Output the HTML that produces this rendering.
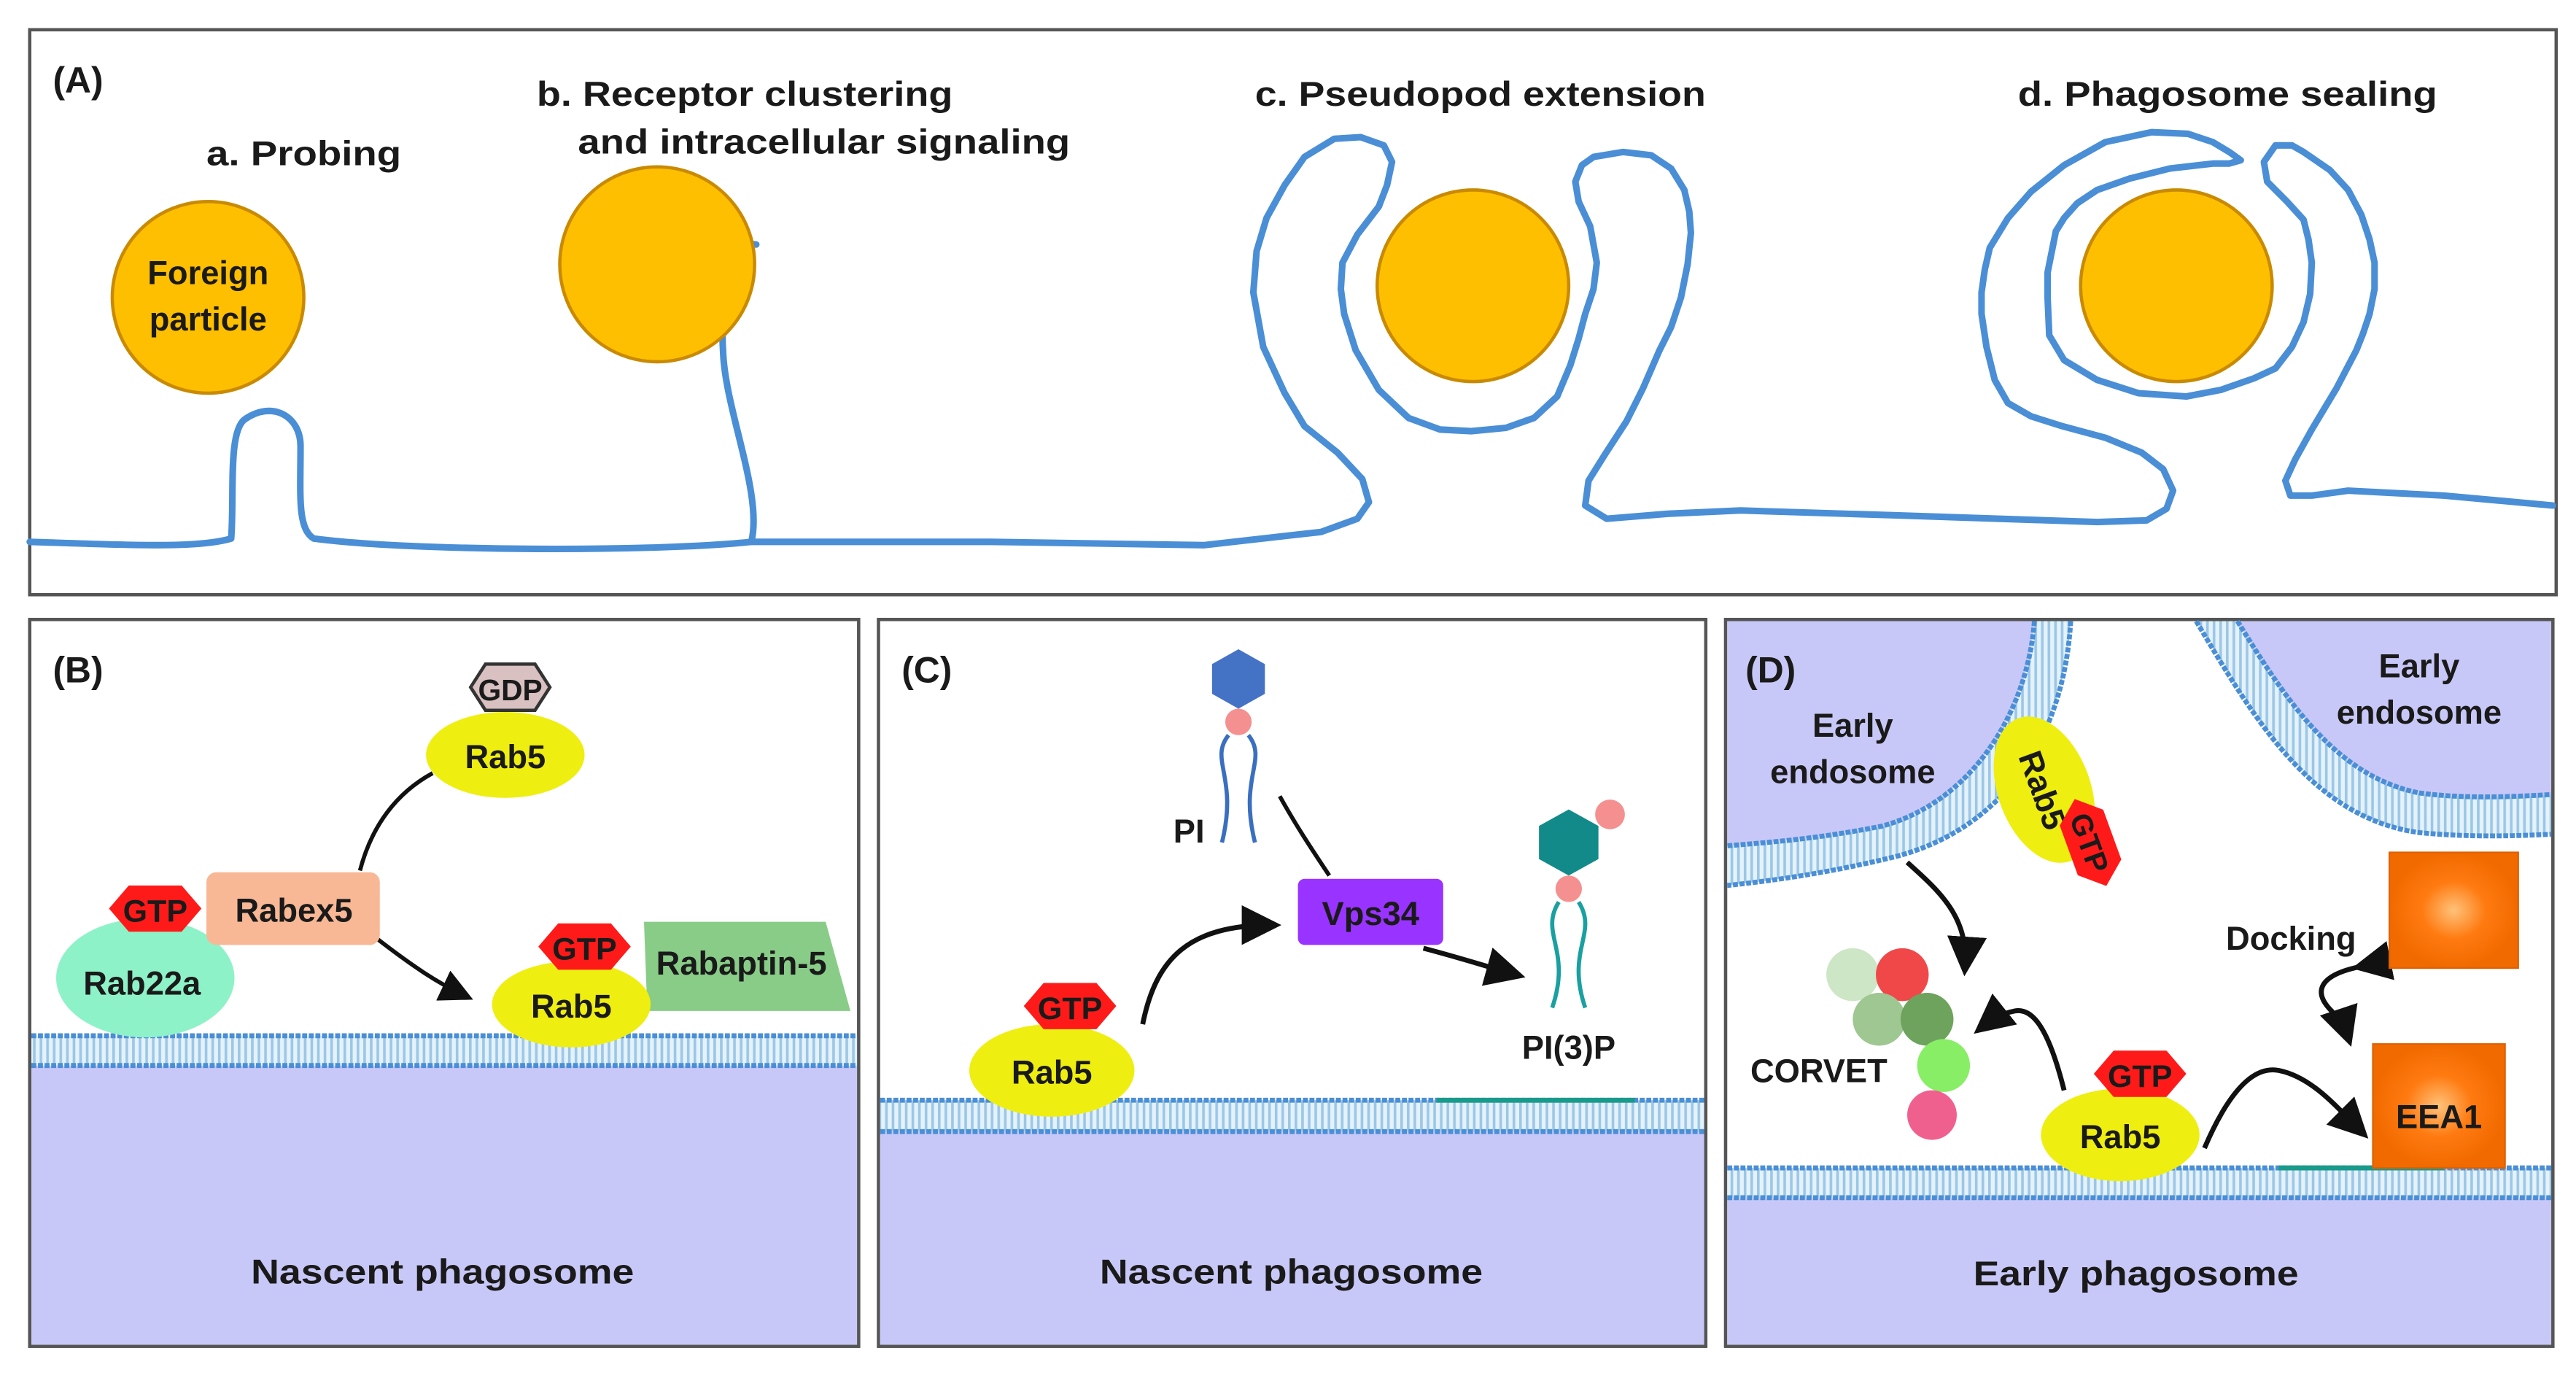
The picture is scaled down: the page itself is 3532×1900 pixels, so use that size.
<!DOCTYPE html>
<html><head><meta charset="utf-8"><style>
html,body{margin:0;padding:0;background:#fff}
svg{display:block}
text{font-family:"Liberation Sans",Arial,sans-serif;font-weight:bold;fill:#1a1a1a}
</style></head><body>
<svg width="3532" height="1900" viewBox="0 0 1560 839" preserveAspectRatio="none" xmlns="http://www.w3.org/2000/svg">
<defs>
<pattern id="st" width="4" height="20" patternUnits="userSpaceOnUse"><rect width="4" height="20" fill="#e4f2fb"/><rect width="1.6" height="20" fill="#9cc7e6"/></pattern>
<radialGradient id="og"><stop offset="0" stop-color="#ffc27a"/><stop offset="0.5" stop-color="#ff7a10"/><stop offset="1" stop-color="#f06a00"/></radialGradient>
<marker id="ar" markerWidth="8" markerHeight="8" refX="6" refY="4" orient="auto" markerUnits="strokeWidth"><path d="M0,0 L8,4 L0,8 z" fill="#111"/></marker>
</defs>
<rect width="1560" height="839" fill="#fff"/>
<!-- Panel A -->
<rect x="18" y="18" width="1530" height="342" fill="#fff" stroke="#555" stroke-width="2"/>
<text x="32" y="56" font-size="22">(A)</text>
<text x="125" y="100" font-size="21" textLength="118" lengthAdjust="spacingAndGlyphs">a. Probing</text>
<text x="325" y="64" font-size="21" textLength="252" lengthAdjust="spacingAndGlyphs">b. Receptor clustering</text>
<text x="350" y="93" font-size="21" textLength="298" lengthAdjust="spacingAndGlyphs">and intracellular signaling</text>
<text x="760" y="64" font-size="21" textLength="273" lengthAdjust="spacingAndGlyphs">c. Pseudopod extension</text>
<text x="1222" y="64" font-size="21" textLength="254" lengthAdjust="spacingAndGlyphs">d. Phagosome sealing</text>
<g fill="none" stroke="#4a8ed6" stroke-width="4" stroke-linejoin="round" stroke-linecap="round">
<path d="M18,328 C80,330 120,332 140,326 C142,300 138,262 148,254 C165,242 182,252 182,270 C182,300 180,320 190,326 C250,334 400,334 455,328 C462,300 440,250 438,215 C436,185 440,145 458,148"/>
<path d="M455,328 L600,328 L729,330 L800,322 L822,314 L829,304 L825,290 L810,274 L790,258 L778,238 L765,210 L759,177 L761,152 L767,132 L778,112 L790,95 L808,84 L824,83 L838,88 L843,98 L840,112 L835,125 L822,142 L813,159 L812,175 L814,190 L821,212 L835,236 L853,253 L872,260 L891,261 L912,259 L929,253 L943,240 L951,221 L956,205 L960,190 L965,175 L967,159 L963,137 L956,122 L954,110 L958,100 L965,95 L983,92 L1000,94 L1012,102 L1020,115 L1023,128 L1024,141 L1022,160 L1018,180 L1012,198 L1005,212 L995,235 L985,255 L972,275 L962,291 L960,306 L973,314 L1010,311 L1054,309 L1150,312 L1270,316 L1300,315 L1312,308 L1316,297 L1310,284 L1297,274 L1275,265 L1249,258 L1230,252 L1216,244 L1208,230 L1203,210 L1200,190 L1200,177 L1202,163 L1205,150 L1216,132 L1230,116 L1250,100 L1275,86 L1303,80 L1325,81 L1340,86 L1350,92 L1357,97 L1350,99 L1340,99 L1314,102 L1290,108 L1270,115 L1258,123 L1250,132 L1245,140 L1243,150 L1240,165 L1240,180 L1241,203 L1250,218 L1270,230 L1295,238 L1324,240 L1345,236 L1365,229 L1378,223 L1388,210 L1395,195 L1399,178 L1400,159 L1398,145 L1395,133 L1385,122 L1373,110 L1371,98 L1378,88 L1388,88 L1395,92 L1411,103 L1422,115 L1430,130 L1435,145 L1438,159 L1438,175 L1435,190 L1431,202 L1427,212 L1415,235 L1400,260 L1390,278 L1384,291 L1387,300 L1400,300 L1422,297 L1480,300 L1546,306"/>
</g>
<g fill="#fdbf00" stroke="#c98a00" stroke-width="2">
<circle cx="126" cy="180" r="58"/>
<circle cx="398" cy="160" r="59"/>
<circle cx="892" cy="173" r="58"/>
<circle cx="1318" cy="173" r="58"/>
</g>
<text x="126" y="172" font-size="20" text-anchor="middle">Foreign</text>
<text x="126" y="200" font-size="20" text-anchor="middle">particle</text>

<!-- Panel B -->
<rect x="18" y="375" width="502" height="440" fill="#fff" stroke="#555" stroke-width="2"/>
<rect x="19" y="645" width="500" height="169" fill="#c8c8f8"/>
<rect x="19" y="627" width="500" height="18" fill="url(#st)"/>
<line x1="19" y1="627" x2="519" y2="627" stroke="#4a8ed6" stroke-width="3" stroke-dasharray="3,1"/>
<line x1="19" y1="645" x2="519" y2="645" stroke="#4a8ed6" stroke-width="3" stroke-dasharray="3,1"/>
<text x="32" y="413" font-size="22">(B)</text>
<text x="152" y="777" font-size="21" textLength="232" lengthAdjust="spacingAndGlyphs">Nascent phagosome</text>
<path d="M218,527 C225,500 240,480 262,468" fill="none" stroke="#111" stroke-width="2.5"/>
<path d="M228,568 C250,585 265,595 282,603" fill="none" stroke="#111" stroke-width="2.5" marker-end="url(#ar)"/>
<ellipse cx="306" cy="457" rx="48" ry="26" fill="#eeee10"/>
<text x="306" y="465" font-size="20" text-anchor="middle">Rab5</text>
<polygon points="294,402 324,402 333,416 324,430 294,430 285,416" fill="#d9c1c1" stroke="#333" stroke-width="2"/>
<text x="309" y="424" font-size="18" text-anchor="middle" fill="#222">GDP</text>
<ellipse cx="88" cy="592" rx="54" ry="36" fill="#8ef2c8"/>
<text x="86" y="602" font-size="20" text-anchor="middle">Rab22a</text>
<rect x="125" y="528" width="105" height="44" rx="6" fill="#f8b895"/>
<text x="178" y="558" font-size="20" text-anchor="middle">Rabex5</text>
<polygon points="78,536 110,536 122,550 110,564 78,564 66,550" fill="#ff1a1a"/>
<text x="94" y="558" font-size="19" text-anchor="middle" fill="#fff">GTP</text>
<polygon points="390,558 500,558 515,612 392,612" fill="#88cc88"/>
<text x="449" y="590" font-size="20" text-anchor="middle">Rabaptin-5</text>
<ellipse cx="346" cy="608" rx="48" ry="26" fill="#eeee10"/>
<text x="346" y="616" font-size="20" text-anchor="middle">Rab5</text>
<polygon points="338,559 370,559 382,573 370,587 338,587 326,573" fill="#ff1a1a"/>
<text x="354" y="581" font-size="19" text-anchor="middle" fill="#fff">GTP</text>

<!-- Panel C -->
<rect x="532" y="375" width="501" height="440" fill="#fff" stroke="#555" stroke-width="2"/>
<rect x="533" y="685" width="499" height="129" fill="#c8c8f8"/>
<rect x="533" y="666" width="499" height="19" fill="url(#st)"/>
<line x1="533" y1="666" x2="1032" y2="666" stroke="#4a8ed6" stroke-width="3" stroke-dasharray="3,1"/>
<line x1="533" y1="685" x2="1032" y2="685" stroke="#4a8ed6" stroke-width="3" stroke-dasharray="3,1"/>
<line x1="870" y1="666" x2="990" y2="666" stroke="#1a9a8a" stroke-width="3"/>
<text x="546" y="413" font-size="22">(C)</text>
<text x="666" y="777" font-size="21" textLength="232" lengthAdjust="spacingAndGlyphs">Nascent phagosome</text>
<polygon points="750,393 766,402 766,420 750,429 734,420 734,402" fill="#4472c4"/>
<circle cx="750" cy="437" r="8" fill="#f59090"/>
<path d="M744,445 C732,460 750,470 740,510 M756,445 C768,460 750,470 760,510" fill="none" stroke="#3a6fc0" stroke-width="2.5"/>
<text x="720" y="510" font-size="20" text-anchor="middle">PI</text>
<path d="M775,482 C785,500 795,515 805,530" fill="none" stroke="#111" stroke-width="2.5"/>
<rect x="786" y="532" width="88" height="40" rx="4" fill="#9933ff"/>
<text x="830" y="560" font-size="20" text-anchor="middle" fill="#fff">Vps34</text>
<path d="M692,620 C700,580 720,560 770,560" fill="none" stroke="#111" stroke-width="3" marker-end="url(#ar)"/>
<path d="M862,574 C885,580 900,585 918,590" fill="none" stroke="#111" stroke-width="3" marker-end="url(#ar)"/>
<polygon points="950,490 968,500 968,520 950,530 932,520 932,500" fill="#138a8a"/>
<circle cx="975" cy="493" r="9" fill="#f59090"/>
<circle cx="950" cy="538" r="8" fill="#f59090"/>
<path d="M944,546 C932,565 952,575 940,610 M956,546 C968,565 948,575 960,610" fill="none" stroke="#1aa0a0" stroke-width="2.5"/>
<text x="950" y="641" font-size="20" text-anchor="middle">PI(3)P</text>
<ellipse cx="637" cy="648" rx="50" ry="28" fill="#eeee10"/>
<text x="637" y="656" font-size="20" text-anchor="middle">Rab5</text>
<polygon points="632,595 664,595 676,609 664,623 632,623 620,609" fill="#ff1a1a"/>
<text x="648" y="617" font-size="19" text-anchor="middle" fill="#fff">GTP</text>

<!-- Panel D -->
<rect x="1045" y="375" width="501" height="440" fill="#fff" stroke="#555" stroke-width="2"/>
<rect x="1046" y="725" width="499" height="89" fill="#c8c8f8"/>
<rect x="1046" y="707" width="499" height="18" fill="url(#st)"/>
<line x1="1046" y1="707" x2="1545" y2="707" stroke="#4a8ed6" stroke-width="3" stroke-dasharray="3,1"/>
<line x1="1046" y1="725" x2="1545" y2="725" stroke="#4a8ed6" stroke-width="3" stroke-dasharray="3,1"/>
<line x1="1380" y1="707" x2="1480" y2="707" stroke="#1a9a8a" stroke-width="3"/>
<!-- left endosome -->
<path d="M1046,376 L1232,376 C1228,430 1195,485 1140,500 C1100,508 1070,510 1046,512 Z" fill="#c8c8f8"/>
<path d="M1232,376 C1228,430 1195,485 1140,500 C1100,508 1070,510 1046,512 L1046,536 C1075,533 1110,528 1150,518 C1215,500 1250,445 1254,376 Z" fill="url(#st)"/>
<path d="M1232,376 C1228,430 1195,485 1140,500 C1100,508 1070,510 1046,512 M1254,376 C1250,445 1215,500 1150,518 C1110,528 1075,533 1046,536" fill="none" stroke="#4a8ed6" stroke-width="3" stroke-dasharray="3,1"/>
<!-- right endosome -->
<path d="M1355,376 C1385,425 1415,470 1465,480 C1495,484 1525,482 1545,481 L1545,376 Z" fill="#c8c8f8"/>
<path d="M1330,376 C1365,435 1400,495 1465,504 C1495,507 1525,506 1545,505 L1545,481 C1525,482 1495,484 1465,480 C1415,470 1385,425 1355,376 Z" fill="url(#st)"/>
<path d="M1355,376 C1385,425 1415,470 1465,480 C1495,484 1525,482 1545,481 M1330,376 C1365,435 1400,495 1465,504 C1495,507 1525,506 1545,505" fill="none" stroke="#4a8ed6" stroke-width="3" stroke-dasharray="3,1"/>
<text x="1057" y="413" font-size="22">(D)</text>
<text x="1122" y="446" font-size="20" text-anchor="middle">Early</text>
<text x="1122" y="474" font-size="20" text-anchor="middle">endosome</text>
<text x="1465" y="410" font-size="20" text-anchor="middle">Early</text>
<text x="1465" y="438" font-size="20" text-anchor="middle">endosome</text>
<text x="1195" y="778" font-size="21" textLength="197" lengthAdjust="spacingAndGlyphs">Early phagosome</text>
<g transform="rotate(70 1238 478)">
<ellipse cx="1238" cy="478" rx="46" ry="28" fill="#eeee10"/>
<text x="1238" y="486" font-size="20" text-anchor="middle">Rab5</text>
</g>
<g transform="rotate(70 1266 510)">
<polygon points="1250,496 1282,496 1294,510 1282,524 1250,524 1238,510" fill="#ff1a1a"/>
<text x="1266" y="517" font-size="18" text-anchor="middle" fill="#fff">GTP</text>
</g>
<path d="M1155,522 C1175,540 1192,555 1190,585" fill="none" stroke="#111" stroke-width="3" marker-end="url(#ar)"/>
<circle cx="1122" cy="590" r="16" fill="#cde6c5"/>
<circle cx="1152" cy="590" r="16" fill="#f04848"/>
<circle cx="1138" cy="617" r="16" fill="#9ec792"/>
<circle cx="1167" cy="617" r="16" fill="#6ea35e"/>
<circle cx="1177" cy="645" r="16" fill="#88ee66"/>
<circle cx="1170" cy="675" r="15" fill="#f0608f"/>
<text x="1060" y="655" font-size="20">CORVET</text>
<path d="M1250,660 C1240,620 1230,610 1220,612 C1210,614 1205,618 1200,622" fill="none" stroke="#111" stroke-width="3" marker-end="url(#ar)"/>
<path d="M1335,695 C1350,660 1365,645 1380,648 C1400,652 1415,670 1430,685" fill="none" stroke="#111" stroke-width="3" marker-end="url(#ar)"/>
<path d="M1430,585 C1405,590 1400,600 1412,612 C1416,618 1420,622 1422,628" fill="none" stroke="#111" stroke-width="3" marker-start="url(#ar)" marker-end="url(#ar)"/>
<text x="1348" y="575" font-size="20">Docking</text>
<rect x="1447" y="516" width="78" height="70" fill="url(#og)" stroke="#e06000"/>
<rect x="1437" y="632" width="80" height="75" fill="url(#og)" stroke="#e06000"/>
<text x="1477" y="683" font-size="20" text-anchor="middle">EEA1</text>
<ellipse cx="1284" cy="687" rx="48" ry="28" fill="#eeee10"/>
<text x="1284" y="695" font-size="20" text-anchor="middle">Rab5</text>
<polygon points="1280,636 1312,636 1324,650 1312,664 1280,664 1268,650" fill="#ff1a1a"/>
<text x="1296" y="658" font-size="19" text-anchor="middle" fill="#fff">GTP</text>
</svg>
</body></html>
